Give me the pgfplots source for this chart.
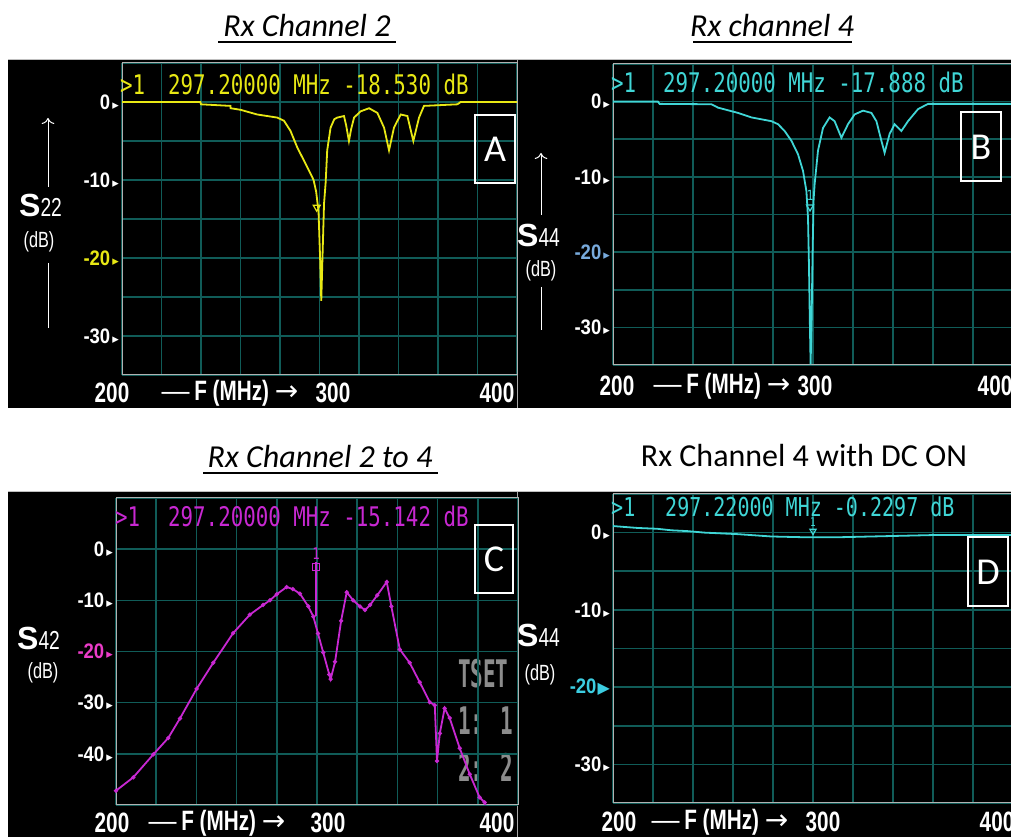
\documentclass[border=0pt]{standalone}
\usepackage{pgfplots}
\pgfplotsset{compat=1.18}
\usetikzlibrary{arrows.meta}
\usepackage{fontspec}
\setmainfont{Carlito}
\newfontfamily\lab{Liberation Sans}
\newfontfamily\labt[FakeStretch=0.88]{Liberation Sans}
\newfontfamily\labn[FakeStretch=0.74]{Liberation Sans}
\newfontfamily\mono[FakeStretch=0.77]{DejaVu Sans Mono}
\newfontfamily\tsetf[FakeStretch=0.55]{DejaVu Sans Mono}
\newfontfamily\sym{DejaVu Sans}

\definecolor{gridc}{RGB}{16,92,88}
\definecolor{ayellow}{RGB}{232,232,20}
\definecolor{bcyan}{RGB}{64,214,214}
\definecolor{cmag}{RGB}{200,40,210}
\definecolor{cmagl}{RGB}{235,60,200}
\definecolor{bblue}{RGB}{120,170,220}
\definecolor{dcyan}{RGB}{60,205,225}
\definecolor{tsetg}{RGB}{140,140,140}

\newcommand{\tri}[1][white]{\hspace{2pt}\textcolor{#1}{\sym\fontsize{13}{13}\selectfont ▸}}
\newcommand{\btri}[1][white]{\hspace{1pt}\textcolor{#1}{\sym\fontsize{16}{16}\selectfont ▶}}

\pgfplotsset{vna/.style={
  scale only axis, anchor=south west,
  xmin=200, xmax=400,
  xtick={200,220,...,400}, xticklabels={},
  major tick length=0pt,
  grid=major,
  grid style={gridc, line width=1.6pt},
  axis line style={draw=gray!60, line width=1pt},
  yticklabel style={inner sep=0pt, xshift=-3pt, text=white,
    font=\labt\bfseries\fontsize{21}{21}\selectfont},
  clip=true,
}}

\begin{document}
\begin{tikzpicture}[x=1pt,y=1pt]
\useasboundingbox (0,0) rectangle (1011,837);
\clip (0,0) rectangle (1011,837);
\fill[white] (0,0) rectangle (1011,837);
% panels
\fill[black] (8,429) rectangle (518,777);
\fill[black] (518,429) rectangle (1011,777);
\fill[black] (8,0) rectangle (518,345);
\fill[black] (518,0) rectangle (1011,345);
\draw[gray!70, line width=1pt] (517.5,429) -- (517.5,777);
\draw[gray!70, line width=1pt] (517.5,0) -- (517.5,345);
\draw[gray!50, line width=1pt] (8,777) -- (1011,777);
\draw[gray!50, line width=1pt] (8,345) -- (1011,345);

% titles
\node[anchor=base, inner sep=0pt, font=\fontsize{32}{36}\selectfont\itshape] at (307,800) {Rx Channel 2};
\draw[black, line width=2pt] (218,795) -- (396,795);
\node[anchor=base, inner sep=0pt, font=\fontsize{32}{36}\selectfont\itshape] at (772,800) {Rx channel 4};
\draw[black, line width=2pt] (693,795) -- (852,795);
\node[anchor=base, inner sep=0pt, font=\fontsize{32}{36}\selectfont\itshape] at (320,369) {Rx Channel 2 to 4};
\draw[black, line width=2pt] (203,364) -- (438,364);
\node[anchor=base, inner sep=0pt, font=\fontsize{32}{36}\selectfont] at (804,370) {Rx Channel 4 with DC ON};

% TSET overlay (under trace)
\tikzset{ts/.style={anchor=base west, inner sep=0pt, text=tsetg, font=\tsetf\bfseries\fontsize{38}{38}\selectfont}}
\node[ts] at (458,149) {TSET};
\node[ts] at (458,102) {1: 1};
\node[ts] at (458,55) {2: 2};

% ---------- A ----------
\begin{axis}[vna, at={(122pt,462pt)}, width=395pt, height=312pt,
  ymin=-35, ymax=5, ytick={-35,-30,...,5},
  yticklabels={,-30\tri,,\textcolor{ayellow}{-20}\tri[ayellow],,-10\tri,,0\tri,}]
\addplot[ayellow, line width=1.8pt] coordinates {
(200,0) (239.7,0) (240,-0.3) (254.9,-0.5) (255,-0.8) (260,-1.0) (268.4,-1.6)
(278.6,-2.0) (282,-2.4) (285.3,-3.7) (288.7,-5.8) (292.1,-7.5) (295.5,-9.2)
(297,-10.0) (298.3,-11.5) (299.5,-14) (300.3,-20) (300.9,-25.5) (301.5,-20)
(302.3,-13) (303.1,-10.4) (303.9,-6.2) (305.6,-3.3) (307.5,-2.2) (309,-2.0)
(312.4,-1.8) (313.5,-3) (314.9,-5.0) (316,-3.5) (317.5,-2.0) (320.8,-1.2)
(325.1,-0.8) (329.3,-1.4) (332.7,-3.3) (335.2,-6.2) (337.7,-3.3) (341.1,-1.6)
(344.5,-1.8) (347.5,-5.0) (350.4,-2.0) (352.9,-0.5) (369.8,-0.3) (371.5,0) (400,0)};
\addplot[ayellow, line width=1.2pt, only marks, mark=triangle, mark size=4pt,
  mark options={rotate=180}] coordinates {(298.6,-13.5)};
\end{axis}

% ---------- B ----------
\begin{axis}[vna, at={(613pt,472pt)}, width=400pt, height=301pt,
  ymin=-35, ymax=5, ytick={-35,-30,...,5},
  yticklabels={,-30\tri,,\textcolor{bblue}{-20}\tri[bblue],,-10\tri,,0\tri,}]
\addplot[bcyan, line width=1.8pt] coordinates {
(200,0) (222.5,0) (223.3,-0.3) (249.2,-0.35) (252.5,-0.8) (262.5,-1.5) (269.2,-2.1)
(279.2,-2.6) (282.5,-3.0) (285.8,-3.9) (289.2,-5.2) (292.5,-7.0) (295,-9.2)
(296.7,-11.9) (297.5,-15.4) (298,-22) (298.4,-29) (298.8,-34.9) (299.3,-29)
(299.8,-20) (300.3,-13) (300.8,-11) (302.5,-6.5) (305,-3.5) (308.3,-2.1)
(310.8,-2.6) (314.2,-4.8) (317.5,-3.0) (320.8,-1.7) (325,-1.2) (329.2,-1.5)
(331.7,-2.6) (334.2,-5.2) (335.8,-6.8) (338.3,-4.3) (340.8,-3.0) (344.2,-3.9)
(347.5,-2.6) (352.5,-1.0) (357.5,-0.3) (400,-0.3)};
\addplot[bcyan, line width=1.2pt, only marks, mark=triangle, mark size=4pt,
  mark options={rotate=180}] coordinates {(298.5,-14)}
  node[above=3pt, text=bcyan, font=\mono\fontsize{14}{14}\selectfont] {1};
\end{axis}

% ---------- C ----------
\begin{axis}[vna, at={(116pt,32pt)}, width=402pt, height=307pt,
  ymin=-50, ymax=10, ytick={-50,-40,...,10},
  yticklabels={,-40\tri,-30\tri,\textcolor{cmagl}{-20}\tri[cmagl],-10\tri,0\tri,}]
\addplot[cmag, line width=1.8pt, mark=*, mark size=1.1pt] coordinates {
(200,-47.2) (208.6,-44.6) (218.6,-40.1) (226,-36.9) (231.8,-33.1) (240.1,-27.3)
(248.4,-22.2) (258.3,-16.4) (266.6,-12.8) (273.2,-10.9) (276.6,-10.0) (280,-8.8)
(284.9,-7.4) (288,-7.8) (291.5,-8.7) (295.7,-11.2) (298.2,-13.2) (300.5,-16.5)
(303.1,-20.2) (306.1,-24.5) (306.8,-25.4) (309,-22) (312,-14) (314.8,-8.4)
(318,-10) (321.4,-11.2) (323.9,-11.9) (326.4,-10.9) (330,-9) (334.7,-6.4)
(337,-11.2) (341.2,-19.6) (346.1,-22.2) (351.1,-26) (356.1,-29.9) (358.6,-30.5)
(359.7,-41.4) (361.1,-36) (363.5,-31.1) (366,-33) (371,-38.9) (376,-44)
(380.9,-48.5) (383.4,-49.5) (385,-51)};
\addplot[cmag, line width=1.5pt] coordinates {(299.5,-2.5) (299.5,-13)};
\addplot[cmag, line width=1.2pt, only marks, mark=square, mark size=3.5pt] coordinates {(299.5,-3.5)}
  node[above=4pt, text=cmag, font=\mono\fontsize{16}{16}\selectfont] {1};
\end{axis}

% ---------- D ----------
\begin{axis}[vna, at={(613pt,34pt)}, width=400pt, height=309pt,
  ymin=-35, ymax=5, ytick={-35,-30,...,5},
  yticklabels={,-30\tri,,\textcolor{dcyan}{-20}\btri[dcyan],,-10\tri,,0\tri,}]
\addplot[bcyan, line width=1.8pt] coordinates {
(200,0.85) (212.5,0.6) (222,0.5) (229.2,0.3) (237,0.2) (245.8,0) (262.5,-0.2)
(279.2,-0.5) (295.8,-0.6) (312.5,-0.6) (329.2,-0.5) (345.8,-0.4) (362.5,-0.3) (400,-0.3)};
\addplot[bcyan, line width=1.2pt, only marks, mark=triangle, mark size=3.5pt,
  mark options={rotate=180}] coordinates {(300,0.2)}
  node[above=1pt, text=bcyan, font=\mono\fontsize{12}{12}\selectfont] {1};
\end{axis}

% readouts
\node[anchor=base west, inner sep=0pt, text=ayellow, font=\mono\fontsize{27}{27}\selectfont] at (120,742) {>1};
\node[anchor=base west, inner sep=0pt, text=ayellow, font=\mono\fontsize{27}{27}\selectfont] at (168,742) {297.20000 MHz -18.530 dB};
\node[anchor=base west, inner sep=0pt, text=bcyan, font=\mono\fontsize{27}{27}\selectfont] at (611,744) {>1};
\node[anchor=base west, inner sep=0pt, text=bcyan, font=\mono\fontsize{27}{27}\selectfont] at (663,744) {297.20000 MHz -17.888 dB};
\node[anchor=base west, inner sep=0pt, text=cmag, font=\mono\fontsize{27}{27}\selectfont] at (115,310) {>1};
\node[anchor=base west, inner sep=0pt, text=cmag, font=\mono\fontsize{27}{27}\selectfont] at (168,310) {297.20000 MHz -15.142 dB};
\node[anchor=base west, inner sep=0pt, text=bcyan, font=\mono\fontsize{26}{26}\selectfont] at (611,320) {>1};
\node[anchor=base west, inner sep=0pt, text=bcyan, font=\mono\fontsize{26}{26}\selectfont] at (665,320) {297.22000 MHz -0.2297 dB};

% panel letter boxes
\draw[white, line width=1.8pt] (475,654) rectangle (515,722);
\node[text=white, font=\fontsize{38}{38}\selectfont] at (495,688) {A};
\draw[white, line width=1.8pt] (961,656) rectangle (1001,725);
\node[text=white, font=\fontsize{38}{38}\selectfont] at (981,690) {B};
\draw[white, line width=1.8pt] (475,244) rectangle (513,312);
\node[text=white, font=\fontsize{38}{38}\selectfont] at (494,278) {C};
\draw[white, line width=1.8pt] (968,231) rectangle (1008,300);
\node[text=white, font=\fontsize{38}{38}\selectfont] at (988,265) {D};

% y-axis quantity labels
\newcommand{\Sq}[1]{{\lab\bfseries\fontsize{32}{32}\selectfont S}{\labn\fontsize{26}{26}\selectfont #1}}
\node[anchor=base west, inner sep=0pt, text=white] at (19,620) {\Sq{22}};
\node[text=white, inner sep=0pt, font=\labn\fontsize{22}{22}\selectfont] at (39,595) {(dB)};
\draw[white, line width=1pt, -{To[length=6pt]}] (48,650) -- (48,719);
\draw[white, line width=1pt] (48,574) -- (48,509);

\node[anchor=base west, inner sep=0pt, text=white] at (517,590) {\Sq{44}};
\node[text=white, inner sep=0pt, font=\labn\fontsize{22}{22}\selectfont] at (541,566) {(dB)};
\draw[white, line width=1pt, -{To[length=6pt]}] (541,622) -- (541,684);
\draw[white, line width=1pt] (541,550) -- (541,507);

\node[anchor=base west, inner sep=0pt, text=white] at (17,187) {\Sq{42}};
\node[text=white, inner sep=0pt, font=\labn\fontsize{22}{22}\selectfont] at (43,164) {(dB)};

\node[anchor=base west, inner sep=0pt, text=white] at (517,190) {\Sq{44}};
\node[text=white, inner sep=0pt, font=\labn\fontsize{22}{22}\selectfont] at (540,162) {(dB)};

% x-axis labels
\tikzset{xl/.style={text=white, inner sep=0pt, font=\labn\bfseries\fontsize{28}{28}\selectfont}}
\newcommand{\Flab}{{\lab\mdseries —}\,F (MHz) {\sym\mdseries →}}
\node[xl] at (112,444) {200};
\node[xl] at (230,444) {\Flab};
\node[xl] at (333,444) {300};
\node[xl] at (497,444) {400};

\node[xl] at (617,451) {200};
\node[xl] at (722,451) {\Flab};
\node[xl] at (815,451) {300};
\node[xl] at (995,451) {400};

\node[xl] at (112,14) {200};
\node[xl] at (217,14) {\Flab};
\node[xl] at (328,14) {300};
\node[xl] at (497,14) {400};

\node[xl] at (619,15) {200};
\node[xl] at (720,15) {\Flab};
\node[xl] at (823,15) {300};
\node[xl] at (997,15) {400};
\end{tikzpicture}
\end{document}
